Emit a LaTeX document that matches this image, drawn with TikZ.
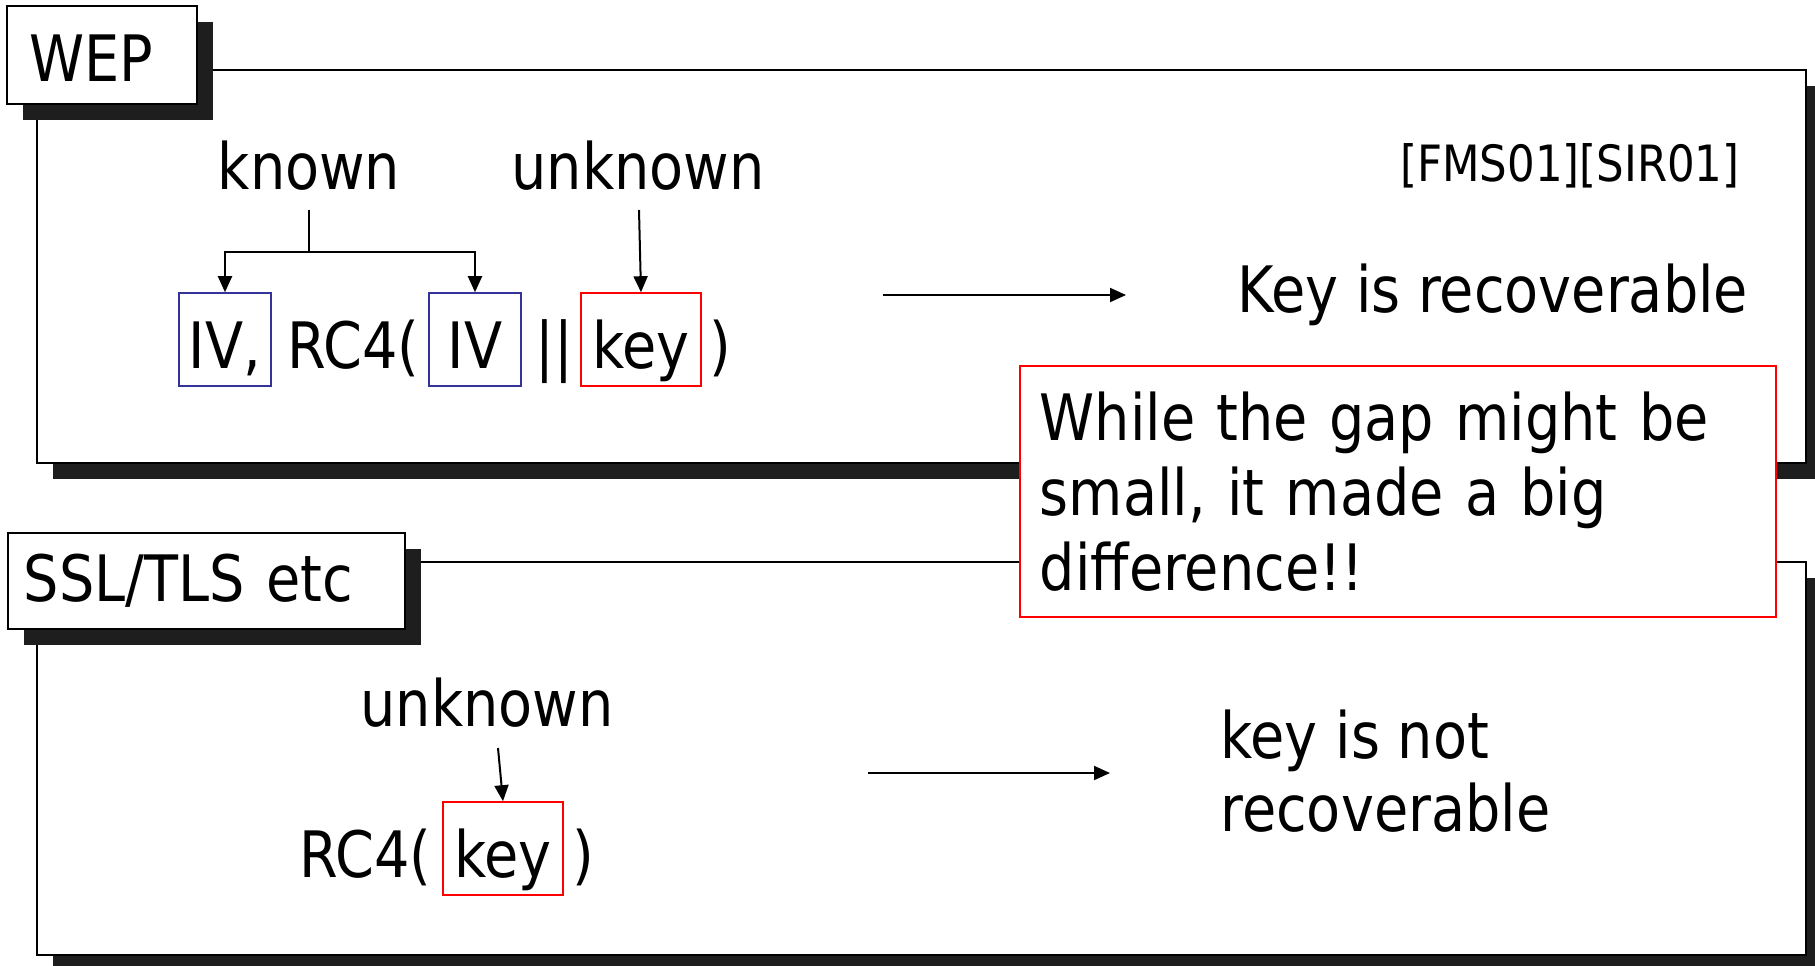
\documentclass[tikz,border=0pt]{standalone}
\usepackage{fontspec}
\setmainfont[FakeStretch=0.87]{DejaVu Sans}
\usetikzlibrary{arrows.meta,shadows}
\definecolor{boxblue}{RGB}{51,51,153}
\definecolor{shadowgray}{RGB}{30,30,30}
\begin{document}
\begin{tikzpicture}[x=0.5pt,y=-0.5pt, font=\fontsize{32}{38}\selectfont,
  arr/.style={-{Triangle[length=8pt,width=7pt]}, line width=1pt},
  plainline/.style={line width=1pt},
  frameline/.style={draw=black, line width=1pt, fill=white},
  shadowfill/.style={fill=shadowgray},
  titlebox/.style={draw=black, line width=1pt, fill=white, inner ysep=0pt, align=left,
    drop shadow={shadow xshift=8pt, shadow yshift=-8pt, opacity=1, fill=shadowgray}},
  txt/.style={inner sep=0pt},
  ivbox/.style={draw=boxblue, line width=0.8pt, inner sep=0pt, text height=37.5pt, text depth=9pt, minimum width=46pt},
  keybox/.style={ivbox, draw=red, minimum width=60pt},
  note/.style={draw=red, line width=0.8pt, fill=white, inner xsep=10pt, inner ysep=0pt, align=left, text width=358pt}]
\useasboundingbox (0,0) rectangle (1815,965);
\clip (0,0) rectangle (1815,965);

% WEP frame
\fill[shadowfill] (53,86) rectangle (1822,479);
\draw[frameline] (37,70) rectangle (1806,463);
\node[titlebox, anchor=north west, inner xsep=11pt, text width=73pt, text height=37.5pt, text depth=11.5pt] (wep) at (6,5) {WEP};

% SSL frame
\fill[shadowfill] (53,578) rectangle (1822,971);
\draw[frameline] (37,562) rectangle (1806,955);
\node[titlebox, anchor=north west, inner xsep=8pt, text width=182.5pt, text height=34pt, text depth=14pt] (ssl) at (7,532) {SSL/TLS etc};

% WEP content
\node[txt, anchor=base east, font=\fontsize{25}{30}\selectfont] (refs) at (1740,181) {[FMS01][SIR01]};
\node[txt, anchor=base] (known) at (309,189) {known};
\node[txt, anchor=base] (unk1) at (638,189) {unknown};

\node[ivbox, anchor=base] (ivA) at (225,368) {IV,};
\node[txt, anchor=base west] (rc4a) at (287,368) {RC4(};
\node[ivbox, anchor=base] (ivB) at (475,368) {IV};
\node[txt, anchor=base west] (bars) at (535,368) {||};
\node[keybox, anchor=base] (keyA) at (641,368) {key};
\node[txt, anchor=base west] (rparA) at (709,368) {)};

\coordinate (kstart) at (309,210);
\coordinate (kjoin) at (309,252);
\draw[plainline] (kstart) -- (kjoin);
\draw[arr] (kjoin) -| (ivA.north);
\draw[arr] (kjoin) -| (ivB.north);
\coordinate (u1s) at (639,210);
\draw[arr] (u1s) -- (keyA.north);

\coordinate (a1s) at (883,295);
\coordinate (a1e) at (1126,295);
\draw[arr] (a1s) -- (a1e);
\node[txt, anchor=base west] (res1) at (1237,312) {Key is recoverable};

% SSL content
\node[txt, anchor=base] (unk2) at (487,726) {unknown};
\coordinate (u2s) at (498,748);
\node[txt, anchor=base west] (rc4b) at (299,877) {RC4(};
\node[keybox, anchor=base] (keyB) at (503,877) {key};
\node[txt, anchor=base west] (rparB) at (572,877) {)};
\draw[arr] (u2s) -- (keyB.north);

\coordinate (a2s) at (868,773);
\coordinate (a2e) at (1110,773);
\draw[arr] (a2s) -- (a2e);
\node[txt, anchor=north west, align=left, font=\fontsize{32}{36.5}\selectfont] (res2) at (1220,698) {\rule{0pt}{30pt}key is not\\recoverable};

% note
\node[note, anchor=north west, font=\fontsize{32}{37.5}\selectfont] (gap) at (1019,365) {\rule{0pt}{37.5pt}While the gap might be\\small, it made a big\\difference!!\rule[-13pt]{0pt}{13pt}};
\end{tikzpicture}
\end{document}
